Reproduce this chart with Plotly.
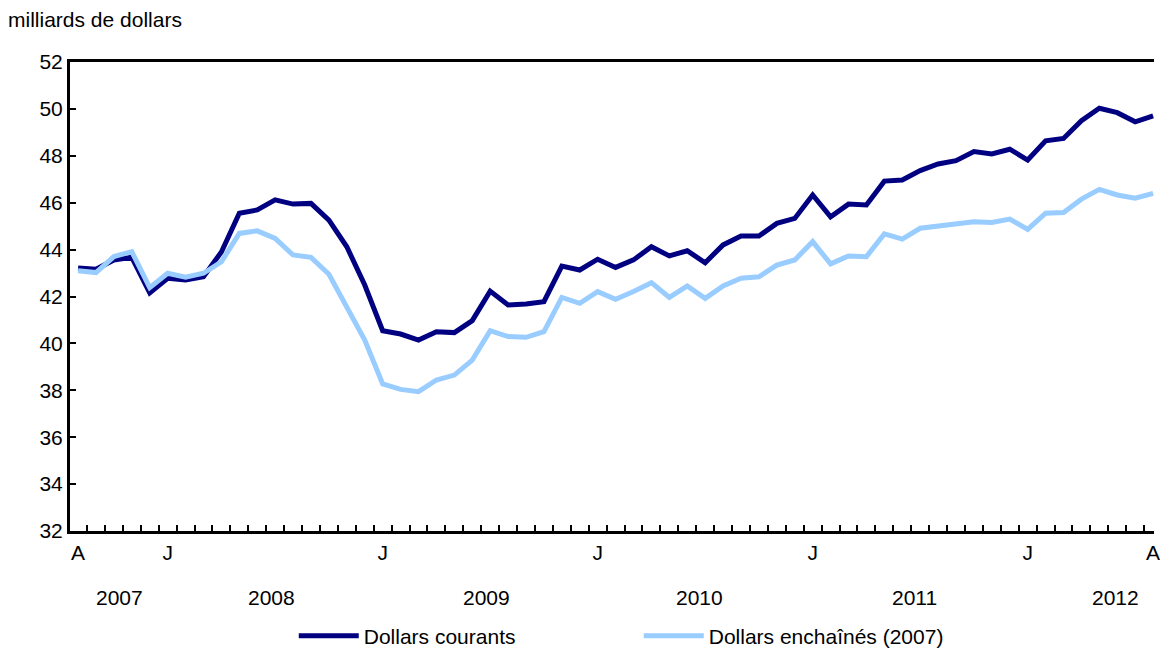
import plotly.graph_objects as go
import pandas as pd

# ---------------- data ----------------
months = [p.strftime("%Y-%m") for p in pd.period_range("2007-08", "2012-08", freq="M")]

current_dollars = [
    43.22, 43.16, 43.56, 43.67, 42.16, 42.78, 42.70, 42.84, 43.90, 45.55,
    45.69, 46.12, 45.94, 45.97, 45.26, 44.12, 42.49, 40.54, 40.40, 40.14,
    40.50, 40.46, 40.97, 42.23, 41.64, 41.68, 41.78, 43.30, 43.13, 43.59,
    43.24, 43.56, 44.12, 43.73, 43.95, 43.44, 44.20, 44.58, 44.58, 45.12,
    45.33, 46.33, 45.40, 45.94, 45.90, 46.92, 46.97, 47.37, 47.65, 47.79,
    48.18, 48.08, 48.28, 47.82, 48.64, 48.74, 49.50, 50.03, 49.84, 49.45,
    49.70,
]

chained_dollars = [
    43.10, 43.02, 43.70, 43.91, 42.38, 42.99, 42.82, 42.99, 43.48, 44.69,
    44.80, 44.48, 43.77, 43.67, 42.95, 41.50, 40.14, 38.27, 38.04, 37.94,
    38.44, 38.65, 39.29, 40.54, 40.29, 40.26, 40.50, 41.96, 41.71, 42.21,
    41.88, 42.21, 42.59, 41.96, 42.45, 41.92, 42.45, 42.78, 42.84, 43.34,
    43.56, 44.34, 43.39, 43.73, 43.70, 44.67, 44.45, 44.91, 45.01, 45.08,
    45.19, 45.16, 45.30, 44.86, 45.55, 45.58, 46.15, 46.57, 46.33, 46.19,
    46.40,
]

tick_months = ["2007-08", "2008-01", "2009-01", "2010-01", "2011-01", "2012-01", "2012-08"]
tick_labels = ["A", "J", "J", "J", "J", "J", "A"]

years = ["2007", "2008", "2009", "2010", "2011", "2012"]

series_names = ["Dollars courants", "Dollars enchaînés (2007)"]
y_title = "milliards de dollars"

# ---------------- figure ----------------
FONT = "Liberation Sans, Arial, sans-serif"
FS = 21

# figure is a little taller than the 648 px window (clipped) so that the
# legend does not push the bottom margin
W, H = 1160, 664
ML, MT = 70, 62
PLOT_BOTTOM = 531
MB = H - PLOT_BOTTOM
plot_w = W - ML
plot_h = PLOT_BOTTOM - MT

x = list(range(len(months)))
tickvals = [months.index(m) for m in tick_months]

# year label centres (layout positions, in month-index units)
year_pos = [2.3, 10.8, 22.8, 34.7, 46.7, 57.9]

fig = go.Figure()
fig.add_trace(go.Scatter(
    x=x, y=current_dollars, mode="lines", name=series_names[0],
    line=dict(color="#000080", width=5),
))
fig.add_trace(go.Scatter(
    x=x, y=chained_dollars, mode="lines", name=series_names[1],
    line=dict(color="#99ccff", width=5),
))

for yr, xp in zip(years, year_pos):
    fig.add_annotation(
        x=xp, y=-(597 - PLOT_BOTTOM) / plot_h, xref="x", yref="paper",
        text=yr, showarrow=False, xanchor="center", yanchor="middle",
        font=dict(family=FONT, size=FS, color="black"),
    )

fig.add_annotation(
    x=-(ML - 6) / plot_w, y=1 + (MT - 20) / plot_h, xref="paper", yref="paper",
    text=y_title, showarrow=False, xanchor="left", yanchor="middle",
    font=dict(family=FONT, size=FS, color="black"),
)

fig.update_layout(
    width=W, height=H,
    margin=dict(l=ML, r=0, t=MT, b=MB),
    plot_bgcolor="white", paper_bgcolor="white",
    font=dict(family=FONT, size=FS, color="black"),
    showlegend=True,
    legend=dict(
        orientation="h", x=(295 - ML) / plot_w, y=-(636 - PLOT_BOTTOM) / plot_h,
        xanchor="left", yanchor="middle",
        entrywidth=270, entrywidthmode="pixels",
        font=dict(family=FONT, size=FS, color="black"),
        itemwidth=60,
    ),
    xaxis=dict(
        range=[-0.45, 60.05], showgrid=False, zeroline=False,
        showline=True, linecolor="black", linewidth=3, mirror=True,
        tickmode="array", tickvals=tickvals, ticktext=tick_labels,
        ticks="", ticklabelstandoff=1, ticklabeloverflow="allow",
        tickfont=dict(family=FONT, size=FS, color="black"),
        minor=dict(
            tickmode="array", tickvals=[i + 0.5 for i in x],
            ticks="inside", ticklen=6, tickwidth=2, tickcolor="black",
            showgrid=False,
        ),
    ),
    yaxis=dict(
        range=[32, 52], dtick=2, tick0=32, showgrid=False, zeroline=False,
        showline=True, linecolor="black", linewidth=3,
        ticks="inside", ticklen=6, tickwidth=2, tickcolor="black",
        tickfont=dict(family=FONT, size=FS, color="black"),
    ),
)

fig.write_html(
    "out.html",
    config={"displayModeBar": False},
    post_script="document.body.style.margin='0';document.body.style.overflow='hidden';",
)
